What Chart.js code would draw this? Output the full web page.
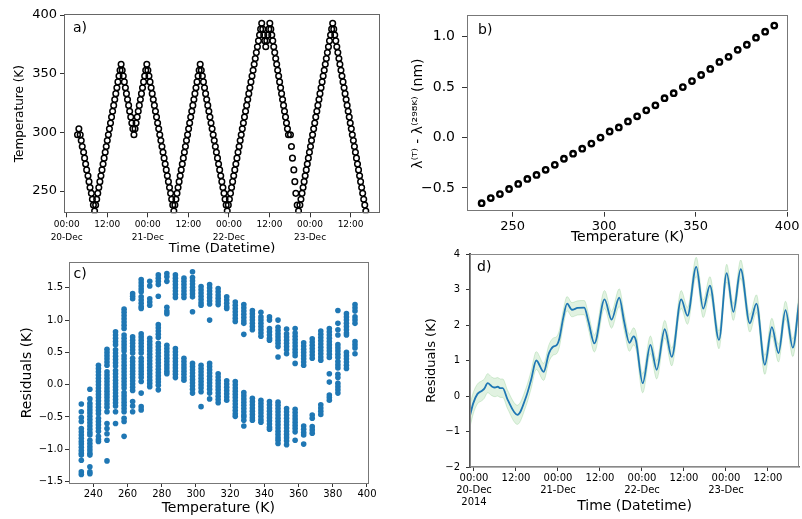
<!DOCTYPE html>
<html>
<head>
<meta charset="utf-8">
<script src="https://cdn.jsdelivr.net/npm/chart.js"></script>
<style>
  body { margin: 0; background: #fff; }
  #wrap { position: relative; width: 802px; height: 519px; }
  canvas { position: absolute; left: 0; top: 0; }
</style>
</head>
<body>
<div id="wrap">
  <canvas id="chartA" width="802" height="519"></canvas>
  <canvas id="chartB" width="802" height="519"></canvas>
  <canvas id="chartC" width="802" height="519"></canvas>
  <canvas id="chartD" width="802" height="519"></canvas>
</div>
<script>
// ---- panel a: temperature programme (hours after 00:00 20-Dec) ----
var timeA = [
  3.2, 3.6, 4.0, 4.3, 4.6, 5.0, 5.3, 5.6, 5.9, 6.3, 6.6, 6.9, 7.3, 7.6, 7.9, 8.25,
  8.56, 8.87, 9.19, 9.50, 9.82, 10.13, 10.44, 10.76, 11.07, 11.39, 11.70, 12.01, 12.33, 12.64, 12.96, 13.27, 13.58, 13.90, 14.21, 14.53, 14.84, 15.15, 15.47, 15.78, 16.10,
  16.42, 16.73, 17.05, 17.37, 17.68, 18.00, 18.32, 18.63, 18.95, 19.27, 19.58, 19.90,
  20.22, 20.53, 20.85, 21.17, 21.48, 21.80, 22.12, 22.43, 22.75, 23.07, 23.38, 23.70,
  24.02, 24.34, 24.66, 24.98, 25.30, 25.62, 25.94, 26.26, 26.58, 26.90, 27.22, 27.54, 27.86, 28.18, 28.50, 28.82, 29.14, 29.46, 29.78, 30.10, 30.42, 30.74, 31.06, 31.38, 31.70,
  32.01, 32.32, 32.64, 32.95, 33.26, 33.57, 33.88, 34.20, 34.51, 34.82, 35.13, 35.44, 35.76, 36.07, 36.38, 36.69, 37.00, 37.32, 37.63, 37.94, 38.25, 38.56, 38.88, 39.19, 39.50,
  39.82, 40.14, 40.46, 40.78, 41.10, 41.42, 41.74, 42.06, 42.38, 42.70, 43.02, 43.34, 43.66, 43.98, 44.30, 44.62, 44.94, 45.26, 45.58, 45.90, 46.22, 46.54, 46.86, 47.18, 47.50,
  47.82, 48.14, 48.46, 48.78, 49.09, 49.41, 49.73, 50.05, 50.37, 50.69, 51.01, 51.33, 51.64, 51.96, 52.28, 52.60, 52.92, 53.24, 53.56, 53.88, 54.19, 54.51, 54.83, 55.15, 55.47, 55.79, 56.11, 56.43, 56.74, 57.06, 57.38, 57.70,
  58.0, 58.3, 58.6, 58.9, 59.2, 59.5, 59.8, 60.1,
  60.39, 60.68, 60.97, 61.26, 61.55, 61.84, 62.13, 62.42, 62.71, 63.00, 63.29, 63.58, 63.87, 64.16, 64.45, 64.74, 65.03, 65.32, 65.61,
  66.2, 66.5, 66.8, 67.2, 67.5, 67.8, 68.2, 68.6, 69.0,
  69.31, 69.63, 69.94, 70.25, 70.56, 70.88, 71.19, 71.50, 71.82, 72.13, 72.44, 72.75, 73.07, 73.38, 73.69, 74.01, 74.32, 74.63, 74.94, 75.26, 75.57, 75.88, 76.20, 76.51, 76.82, 77.13, 77.45, 77.76, 78.07, 78.39, 78.70,
  79.01, 79.31, 79.62, 79.92, 80.23, 80.54, 80.84, 81.15, 81.45, 81.76, 82.07, 82.37, 82.68, 82.98, 83.29, 83.60, 83.90, 84.21, 84.51, 84.82, 85.13, 85.43, 85.74, 86.04, 86.35, 86.66, 86.96, 87.27, 87.57, 87.88, 88.19, 88.50
];
var tempA = [
  298, 303, 298, 293, 288, 283, 278, 273, 268, 263, 258, 253, 248, 243, 238, 233,
  238, 243, 248, 253, 258, 263, 268, 273, 278, 283, 288, 293, 298, 303, 308, 313, 318, 323, 328, 333, 338, 343, 348, 353, 358,
  353, 348, 343, 338, 333, 328, 323, 318, 313, 308, 303, 298,
  303, 308, 313, 318, 323, 328, 333, 338, 343, 348, 353, 358,
  353, 348, 343, 338, 333, 328, 323, 318, 313, 308, 303, 298, 293, 288, 283, 278, 273, 268, 263, 258, 253, 248, 243, 238, 233,
  238, 243, 248, 253, 258, 263, 268, 273, 278, 283, 288, 293, 298, 303, 308, 313, 318, 323, 328, 333, 338, 343, 348, 353, 358,
  353, 348, 343, 338, 333, 328, 323, 318, 313, 308, 303, 298, 293, 288, 283, 278, 273, 268, 263, 258, 253, 248, 243, 238, 233,
  238, 243, 248, 253, 258, 263, 268, 273, 278, 283, 288, 293, 298, 303, 308, 313, 318, 323, 328, 333, 338, 343, 348, 353, 358, 363, 368, 373, 378, 383, 388, 393,
  388, 383, 378, 373, 378, 383, 388, 393,
  388, 383, 378, 373, 368, 363, 358, 353, 348, 343, 338, 333, 328, 323, 318, 313, 308, 303, 298,
  298, 288, 278, 268, 258, 248, 238, 233, 238,
  243, 248, 253, 258, 263, 268, 273, 278, 283, 288, 293, 298, 303, 308, 313, 318, 323, 328, 333, 338, 343, 348, 353, 358, 363, 368, 373, 378, 383, 388, 393,
  388, 383, 378, 373, 368, 363, 358, 353, 348, 343, 338, 333, 328, 323, 318, 313, 308, 303, 298, 293, 288, 283, 278, 273, 268, 263, 258, 253, 248, 243, 238, 233
];

// ---- panel b: wavelength shift vs temperature ----
var tempB = [233, 238, 243, 248, 253, 258, 263, 268, 273, 278, 283, 288, 293, 298, 303, 308, 313,
  318, 323, 328, 333, 338, 343, 348, 353, 358, 363, 368, 373, 378, 383, 388, 393];
var shiftB = [-0.65, -0.60, -0.56, -0.51, -0.46, -0.41, -0.37, -0.32, -0.27, -0.21, -0.16, -0.11, -0.06, 0.0, 0.06, 0.10, 0.16,
  0.21, 0.27, 0.32, 0.39, 0.44, 0.50, 0.56, 0.62, 0.68, 0.75, 0.80, 0.87, 0.92, 0.99, 1.05, 1.11];

// ---- panel c: residuals per temperature step ----
var tempsC = tempB;
var residC = [
  [-0.30, -0.42, -0.51, -0.57, -0.68, -0.73, -0.78, -0.83, -0.88, -0.92, -0.97, -1.02, -1.06, -1.09, -1.17, -1.35, -1.39],
  [-0.07, -0.22, -0.29, -0.34, -0.39, -0.44, -0.49, -0.54, -0.59, -0.64, -0.69, -0.74, -0.78, -0.86, -0.91, -0.96, -1.01, -1.06, -1.09, -1.27, -1.35, -1.38],
  [0.30, 0.25, 0.20, 0.15, 0.10, 0.05, 0.0, -0.05, -0.10, -0.15, -0.20, -0.25, -0.30, -0.35, -0.40, -0.45, -0.52, -0.57, -0.62, -0.67, -0.72, -0.80, -0.85, -0.88],
  [0.55, 0.50, 0.45, 0.40, 0.35, 0.30, 0.20, 0.15, 0.10, 0.05, 0.0, -0.05, -0.10, -0.15, -0.20, -0.25, -0.30, -0.35, -0.42, -0.60, -0.68, -0.76, -0.86, -1.18],
  [0.82, 0.77, 0.72, 0.67, 0.62, 0.54, 0.49, 0.44, 0.39, 0.34, 0.29, 0.22, 0.17, 0.12, 0.07, 0.02, -0.03, -0.08, -0.13, -0.18, -0.23, -0.28, -0.33, -0.42, -0.60],
  [1.17, 1.12, 1.07, 1.02, 0.97, 0.92, 0.87, 0.77, 0.72, 0.67, 0.62, 0.57, 0.52, 0.45, 0.40, 0.35, 0.30, 0.25, 0.20, 0.15, 0.10, 0.05, 0.0, -0.05, -0.12, -0.17, -0.22, -0.27, -0.32, -0.37, -0.42, -0.52, -0.57, -0.80],
  [1.41, 1.37, 1.33, 0.74, 0.69, 0.64, 0.59, 0.54, 0.49, 0.41, 0.36, 0.31, 0.26, 0.21, 0.16, 0.11, 0.06, 0.01, -0.04, -0.09, -0.26, -0.33, -0.42],
  [1.63, 1.58, 1.53, 1.48, 1.44, 1.36, 1.31, 1.26, 1.21, 1.18, 0.79, 0.74, 0.69, 0.64, 0.59, 0.54, 0.49, 0.41, 0.36, 0.31, 0.26, 0.21, 0.16, 0.11, 0.05, -0.13, -0.34, -0.39],
  [1.60, 1.53, 1.33, 1.28, 1.23, 0.72, 0.67, 0.62, 0.57, 0.52, 0.47, 0.42, 0.37, 0.32, 0.27, 0.22, 0.17, 0.12, 0.07, 0.02, -0.03],
  [1.70, 1.65, 1.60, 1.55, 1.37, 0.93, 0.88, 0.83, 0.78, 0.73, 0.64, 0.59, 0.54, 0.49, 0.44, 0.39, 0.34, 0.29, 0.24, 0.19, 0.14, 0.09, 0.04, -0.01, -0.08],
  [1.72, 1.67, 1.60, 1.20, 1.14, 1.10, 0.61, 0.56, 0.51, 0.46, 0.41, 0.36, 0.31, 0.26, 0.21, 0.17],
  [1.70, 1.65, 1.60, 1.55, 1.50, 1.45, 1.40, 1.35, 0.56, 0.51, 0.46, 0.41, 0.36, 0.31, 0.26, 0.21, 0.16, 0.11],
  [1.65, 1.60, 1.55, 1.50, 1.45, 1.40, 1.35, 0.41, 0.36, 0.31, 0.26, 0.21, 0.16, 0.11, 0.07],
  [1.75, 1.66, 1.61, 1.56, 1.51, 1.46, 1.41, 1.36, 1.13, 0.33, 0.28, 0.23, 0.18, 0.13, 0.08, 0.03, -0.02, -0.07, -0.13],
  [1.52, 1.47, 1.42, 1.37, 1.32, 1.27, 1.23, 0.30, 0.25, 0.20, 0.15, 0.10, 0.05, 0.0, -0.05, -0.11, -0.34],
  [1.55, 1.50, 1.45, 1.40, 1.35, 1.30, 1.25, 1.0, 0.33, 0.28, 0.23, 0.18, 0.13, 0.08, 0.03, -0.02, -0.07, -0.13, -0.22],
  [1.49, 1.44, 1.39, 1.34, 1.29, 1.24, 0.17, 0.12, 0.07, 0.02, -0.03, -0.08, -0.13, -0.18, -0.23, -0.28],
  [1.36, 1.31, 1.26, 1.21, 1.18, 0.06, 0.01, -0.04, -0.09, -0.14, -0.19, -0.24],
  [1.28, 1.23, 1.18, 1.13, 1.08, 1.03, 0.98, 0.05, 0.0, -0.05, -0.10, -0.15, -0.20, -0.25, -0.30, -0.35, -0.40, -0.45, -0.49],
  [1.24, 1.19, 1.14, 1.09, 1.04, 0.99, 0.95, 0.78, -0.12, -0.17, -0.22, -0.27, -0.32, -0.37, -0.42, -0.47, -0.50, -0.55, -0.64],
  [1.15, 1.10, 1.05, 1.00, 0.95, 0.90, 0.85, -0.21, -0.26, -0.31, -0.36, -0.41, -0.46, -0.51, -0.55],
  [1.12, 1.05, 1.00, 0.95, 0.90, 0.85, 0.80, 0.75, -0.24, -0.29, -0.34, -0.39, -0.44, -0.49, -0.54, -0.58],
  [1.05, 1.0, 0.87, 0.82, 0.77, 0.72, 0.69, -0.26, -0.31, -0.36, -0.41, -0.46, -0.51, -0.56, -0.61, -0.66, -0.69],
  [1.0, 0.89, 0.84, 0.79, 0.74, 0.69, 0.64, 0.59, 0.43, -0.27, -0.32, -0.37, -0.42, -0.47, -0.52, -0.57, -0.62, -0.67, -0.72, -0.77, -0.82, -0.86, -0.91],
  [0.86, 0.79, 0.74, 0.69, 0.64, 0.59, 0.54, 0.48, -0.37, -0.42, -0.47, -0.52, -0.57, -0.62, -0.67, -0.72, -0.77, -0.82, -0.87, -0.93],
  [0.87, 0.80, 0.75, 0.70, 0.65, 0.60, 0.55, 0.50, 0.45, 0.33, -0.38, -0.43, -0.48, -0.53, -0.58, -0.63, -0.68, -0.73, -0.86],
  [0.65, 0.60, 0.55, 0.50, 0.45, 0.40, 0.35, 0.30, -0.64, -0.69, -0.74, -0.78, -0.92],
  [0.71, 0.66, 0.61, 0.56, 0.51, 0.46, 0.41, -0.47, -0.52, -0.65, -0.70, -0.75],
  [0.83, 0.78, 0.73, 0.68, 0.63, 0.58, 0.53, 0.48, 0.43, 0.38, -0.31, -0.36, -0.41, -0.46],
  [0.87, 0.82, 0.77, 0.72, 0.67, 0.62, 0.57, 0.52, 0.47, 0.42, 0.17, 0.04, -0.16, -0.20, -0.24],
  [1.15, 0.95, 0.85, 0.77, 0.62, 0.57, 0.52, 0.47, 0.42, 0.36, 0.31, 0.26, 0.16, 0.11, 0.02, -0.03, -0.08, -0.13],
  [1.10, 1.05, 1.00, 0.95, 0.90, 0.85, 0.80, 0.77, 0.50, 0.45, 0.40, 0.35, 0.30, 0.25],
  [1.24, 1.19, 1.14, 1.05, 1.00, 0.95, 0.67, 0.62, 0.57, 0.48]
];

// ---- panel d: residuals over time with uncertainty band ----
var timeD = [-1.14, -0.2, 1.0, 2.3, 2.9, 3.9, 5.1, 6.0, 6.8, 7.5, 8.2, 9.6, 12.4, 14.9, 16.3, 17.8, 19.9, 21.4, 22.6, 23.6,
  24.4, 25.5, 26.6, 28.0, 29.6, 31.5, 32.7, 34.4, 37.3, 39.3, 41.5, 42.9, 44.4, 45.6, 46.3, 48.2, 50.4, 52.2, 54.5, 56.5,
  59.2, 61.0, 63.5, 65.5, 67.4, 70.0, 72.2, 74.1, 76.2, 78.8, 80.7, 83.1, 85.1, 87.0, 89.0, 91.1, 92.86];
var residD = [-0.55, -0.2, 0.06, 0.15, 0.2, 0.36, 0.27, 0.24, 0.26, 0.22, 0.22, -0.1, -0.53, -0.02, 0.45, 1.0, 0.68, 1.2, 1.39, 1.43,
  1.62, 2.2, 2.6, 2.43, 2.48, 2.49, 2.1, 1.48, 2.72, 2.15, 2.77, 2.1, 1.5, 1.68, 1.55, 0.36, 1.44, 0.74, 1.88, 1.1,
  2.72, 2.26, 3.64, 2.46, 3.11, 1.58, 3.46, 2.37, 3.57, 2.05, 2.6, 0.88, 1.94, 1.21, 2.42, 1.36, 2.65];
var sigmaD = [0.33, 0.3, 0.28, 0.28, 0.27, 0.27, 0.26, 0.26, 0.26, 0.26, 0.26, 0.26, 0.27, 0.25, 0.25, 0.25, 0.24, 0.24, 0.24, 0.24,
  0.24, 0.22, 0.2, 0.2, 0.2, 0.2, 0.22, 0.24, 0.25, 0.24, 0.25, 0.24, 0.24, 0.24, 0.24, 0.27, 0.25, 0.26, 0.25, 0.25,
  0.25, 0.24, 0.27, 0.25, 0.25, 0.25, 0.25, 0.24, 0.26, 0.25, 0.25, 0.27, 0.25, 0.25, 0.25, 0.25, 0.25];

var hourTicks = [0, 12, 24, 36, 48, 60, 72, 84];
var hourLabelsA = [['00:00', '20-Dec'], '12:00', ['00:00', '21-Dec'], '12:00', ['00:00', '22-Dec'], '12:00', ['00:00', '23-Dec'], '12:00'];
var hourLabelsD = [['00:00', '20-Dec', '2014'], '12:00', ['00:00', '21-Dec'], '12:00', ['00:00', '22-Dec'], '12:00', ['00:00', '23-Dec'], '12:00'];

Chart.defaults.font.family = "'DejaVu Sans', sans-serif";
Chart.defaults.color = '#000';

function fixedTicks(values) {
    return function (scale) {
        scale.ticks = values.map(function (v) { return { value: v }; });
    };
}

function signed(digits) {
    return function (v) {
        return (v < 0 ? '\u2212' : '') + Math.abs(v).toFixed(digits);
    };
}

// frame around the plot area + panel letter
var framePlugin = {
    id: 'frame',
    afterDraw: function (chart, args, opts) {
        var ctx = chart.ctx;
        var a = chart.chartArea;
        ctx.save();
        ctx.strokeStyle = opts.color;
        ctx.lineWidth = 1;
        ctx.strokeRect(Math.round(a.left) + 0.5, Math.round(a.top) + 0.5,
            Math.round(a.right - a.left) - 1, Math.round(a.bottom - a.top) - 1);
        ctx.fillStyle = '#000';
        ctx.font = "14px 'DejaVu Sans'";
        ctx.textBaseline = 'top';
        ctx.fillText(opts.label, a.left + opts.dx, a.top + opts.dy);
        ctx.restore();
    }
};

function tickGrid(len) {
    return { drawOnChartArea: false, drawTicks: true, tickLength: len, tickColor: '#333' };
}

// ---------- a) ----------
var pointsA = timeA.map(function (t, i) { return { x: t, y: tempA[i] }; });

new Chart(document.getElementById('chartA'), {
    type: 'scatter',
    data: {
        datasets: [{
            data: pointsA,
            pointRadius: 2.8,
            pointBorderWidth: 1.5,
            pointBorderColor: '#000',
            pointBackgroundColor: 'rgba(0,0,0,0)',
            clip: 0
        }]
    },
    options: {
        responsive: false,
        animation: false,
        layout: { padding: { left: 12.8, top: 14, right: 422, bottom: 262.2 } },
        scales: {
            x: {
                type: 'linear', min: -0.8, max: 92.7,
                afterBuildTicks: fixedTicks(hourTicks),
                afterFit: function (s) { s.height = 43.5; },
                ticks: {
                    callback: function (v, i) { return hourLabelsA[i]; },
                    font: { size: 9, lineHeight: 1.45 }, padding: 1, maxRotation: 0, autoSkip: false
                },
                grid: tickGrid(4),
                border: { display: false },
                title: { display: true, text: 'Time (Datetime)', font: { size: 13 }, padding: 0 }
            },
            y: {
                min: 231, max: 400.9,
                afterBuildTicks: fixedTicks([250, 300, 350, 400]),
                afterFit: function (s) { s.width = 51.2; },
                ticks: { font: { size: 13 }, padding: 3 },
                grid: tickGrid(4),
                border: { display: false },
                title: { display: true, text: 'Temperature (K)', font: { size: 12 }, padding: 0 }
            }
        },
        plugins: {
            legend: { display: false },
            tooltip: { enabled: false },
            frame: { label: 'a)', color: '#666', dx: 9, dy: 7 }
        }
    },
    plugins: [framePlugin]
});

// ---------- b) ----------
var pointsB = tempB.map(function (t, i) { return { x: t, y: shiftB[i] }; });

new Chart(document.getElementById('chartB'), {
    type: 'scatter',
    data: {
        datasets: [{
            data: pointsB,
            pointRadius: 2.7,
            pointBorderWidth: 2.4,
            pointBorderColor: '#000',
            pointBackgroundColor: 'rgba(0,0,0,0)'
        }]
    },
    options: {
        responsive: false,
        animation: false,
        layout: { padding: { left: 409.6, top: 12.7, right: 14, bottom: 273.1 } },
        scales: {
            x: {
                type: 'linear', min: 225, max: 400.5,
                afterBuildTicks: fixedTicks([250, 300, 350, 400]),
                afterFit: function (s) { s.height = 34.2; },
                ticks: { font: { size: 13 }, padding: 2, maxRotation: 0 },
                grid: tickGrid(5),
                border: { display: false },
                title: { display: true, text: 'Temperature (K)', font: { size: 14 }, padding: 0 }
            },
            y: {
                min: -0.735, max: 1.211,
                afterBuildTicks: fixedTicks([-0.5, 0, 0.5, 1.0]),
                afterFit: function (s) { s.width = 57.4; },
                ticks: { font: { size: 14 }, padding: 7, callback: signed(1) },
                grid: tickGrid(5),
                border: { display: false },
                title: { display: true, text: 'λ⁽ᵀ⁾ - λ⁽²⁹⁸ᴷ⁾ (nm)', font: { size: 14 }, padding: 0 }
            }
        },
        plugins: {
            legend: { display: false },
            tooltip: { enabled: false },
            frame: { label: 'b)', color: '#777', dx: 11, dy: 8 }
        }
    },
    plugins: [framePlugin]
});

// ---------- c) ----------
var pointsC = [];
tempsC.forEach(function (t, i) {
    residC[i].forEach(function (r) { pointsC.push({ x: t, y: r }); });
});

new Chart(document.getElementById('chartC'), {
    type: 'scatter',
    data: {
        datasets: [{
            data: pointsC,
            pointRadius: 2.8,
            pointBorderWidth: 0,
            pointBackgroundColor: '#1f77b4'
        }]
    },
    options: {
        responsive: false,
        animation: false,
        layout: { padding: { left: 18.6, top: 262, right: 434, bottom: 2.6 } },
        scales: {
            x: {
                type: 'linear', min: 225.5, max: 400.6,
                afterBuildTicks: fixedTicks([240, 260, 280, 300, 320, 340, 360, 380, 400]),
                afterFit: function (s) { s.height = 32.9; },
                ticks: { font: { size: 10 }, padding: 1, maxRotation: 0, autoSkip: false },
                grid: tickGrid(3.5),
                border: { display: false },
                title: { display: true, text: 'Temperature (K)', font: { size: 14 }, padding: 0 }
            },
            y: {
                min: -1.53, max: 1.9,
                afterBuildTicks: fixedTicks([-1.5, -1.0, -0.5, 0, 0.5, 1.0, 1.5]),
                afterFit: function (s) { s.width = 49.9; },
                ticks: { font: { size: 10 }, padding: 2, callback: signed(1) },
                grid: tickGrid(3.5),
                border: { display: false },
                title: { display: true, text: 'Residuals (K)', font: { size: 14 }, padding: 0 }
            }
        },
        plugins: {
            legend: { display: false },
            tooltip: { enabled: false },
            frame: { label: 'c)', color: '#777', dx: 5, dy: 5 }
        }
    },
    plugins: [framePlugin]
});

// ---------- d) ----------
var lineD = timeD.map(function (t, i) { return { x: t, y: residD[i] }; });
var lowD = timeD.map(function (t, i) { return { x: t, y: residD[i] - sigmaD[i] }; });
var highD = timeD.map(function (t, i) { return { x: t, y: residD[i] + sigmaD[i] }; });

new Chart(document.getElementById('chartD'), {
    type: 'scatter',
    data: {
        datasets: [{
            data: lineD,
            showLine: true,
            cubicInterpolationMode: 'monotone',
            borderColor: '#1f77b4',
            borderWidth: 1.8,
            pointRadius: 0,
            fill: false
        }, {
            data: lowD,
            showLine: true,
            cubicInterpolationMode: 'monotone',
            borderColor: 'rgba(44,160,44,0.22)',
            borderWidth: 0.8,
            pointRadius: 0,
            fill: false
        }, {
            data: highD,
            showLine: true,
            cubicInterpolationMode: 'monotone',
            borderColor: 'rgba(44,160,44,0.22)',
            backgroundColor: 'rgba(44,160,44,0.14)',
            borderWidth: 0.8,
            pointRadius: 0,
            fill: '-1'
        }]
    },
    options: {
        responsive: false,
        animation: false,
        layout: { padding: { left: 424.2, top: 254, right: 3, bottom: 4.1 } },
        scales: {
            x: {
                type: 'linear', min: -1.14, max: 92.86,
                afterBuildTicks: fixedTicks(hourTicks),
                afterFit: function (s) { s.height = 47.9; },
                ticks: {
                    callback: function (v, i) { return hourLabelsD[i]; },
                    font: { size: 10, lineHeight: 1.17 }, padding: 2, maxRotation: 0, autoSkip: false
                },
                grid: tickGrid(4),
                border: { display: true, color: '#666', width: 1.5 },
                title: { display: true, text: 'Time (Datetime)', font: { size: 14 }, padding: 0 }
            },
            y: {
                min: -2, max: 4,
                afterBuildTicks: fixedTicks([-2, -1, 0, 1, 2, 3, 4]),
                afterFit: function (s) { s.width = 45.8; },
                ticks: { font: { size: 10 }, padding: 6, callback: signed(0) },
                grid: tickGrid(4),
                border: { display: true, color: '#555', width: 2 },
                title: { display: true, text: 'Residuals (K)', font: { size: 13 }, padding: 0 }
            }
        },
        plugins: {
            legend: { display: false },
            tooltip: { enabled: false },
            frame: { label: 'd)', color: '#888', dx: 7, dy: 6 }
        }
    },
    plugins: [framePlugin]
});
</script>
</body>
</html>
